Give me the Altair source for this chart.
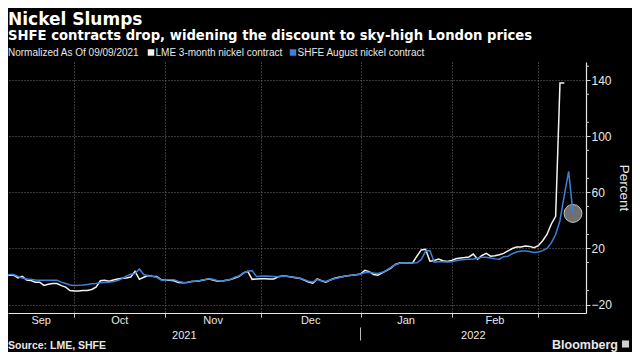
import altair as alt
import numpy as np
import pandas as pd

START = "2021-09-09"
LME_NAME = "LME 3-month nickel contract"
SHFE_NAME = "SHFE August nickel contract"

# One value per trading day starting 2021-09-09 (percent change since then)
lme = [0, 1, 1, -1, 0.2, -2.5, -2.8, -4, -4, -6.3,
       -5.5, -5, -5, -6.5, -7.5, -10, -10.3, -10.3, -9.9, -9.9,
       -9.2, -7.5, -3, -2.6, -3.3, -2.5, -1.7, -1.3, -1, -0.3,
       3.7, -2, -0.5, 0.7, 0.2, 0, -2.2, -2.6, -2.6, -3,
       -4.2, -4.5, -4.2, -3.6, -3.3, -3, -2.3, -1.7, -2.5, -3.3,
       -3.3, -2.6, -2.2, -1, 0.2, 2.5, 3.7, -2, -1.8, -1.6,
       -1.5, -1.7, -1.7, -0.2, 0.3, 0.2, -0.3, -0.8, -1.2, -2.5,
       -4, -4.8, -1.7, -3, -4, -2.5, -1.2, -0.5, 0, 0.5,
       1, 1.3, 1.8, 4.4, 3.5, 1.5, 0.9, 2.6, 4.2, 6,
       8.6, 9.6, 9.7, 9.7, 9.7, 14.5, 19, 19.4, 11, 11.5,
       12.5, 11.3, 10.8, 11.5, 12.7, 13.3, 13.6, 14, 16, 12.4,
       15, 16.5, 14.5, 14.8, 15.5, 16.5, 18.3, 20, 21, 21,
       21.8, 21.5, 20.6, 22, 25.5, 30, 37.5, 43, 138, 138]

shfe = [0, 1.5, 1.4, 0, -1, -1.7, -2, -2.5, -2.6, -2.6,
        -2.6, -2.6, -2.6, -4, -5, -6, -6.3, -6.2, -6, -5.6,
        -5.2, -4.9, -4.5, -4.2, -4, -3.5, -2.8, -1.5, 0.3, 1.7,
        2.1, 5.4, 1.4, 0.5, 0, -0.5, -2.4, -2.6, -2.2, -2.2,
        -3.5, -4, -4.2, -3.6, -3.3, -2.8, -2.2, -1.6, -2, -3,
        -3.3, -2.6, -2, -0.5, 0.5, 2.5, 3.8, 4.2, 0, 0.2,
        0.3, 0.2, 0, -0.2, 0.2, 0.2, -0.3, -0.5, -1.2, -2.2,
        -3.3, -3.8, -2.2, -3, -3.5, -2.5, -1.5, -0.8, 0, 0.5,
        1, 1.3, 1.7, 2.8, 3, 2.5, 2.2, 3, 4.5, 6.5,
        8.4, 9.4, 9.6, 9.6, 9.6, 9.8, 12, 18, 18.5, 10.3,
        10.5, 10.5, 10.3, 10.6, 11.3, 11.8, 12.1, 12.3, 12.5, 13.1,
        13.8, 13.8, 13.2, 12.6, 12.4, 14.2, 14.5, 16.3, 17.5, 18.2,
        18.2, 17.8, 17.2, 17.5, 18.5, 20, 24, 30, 40, 58,
        75, 45]

month_starts = ["2021-10-01", "2021-11-01", "2021-12-01",
                "2022-01-03", "2022-02-01", "2022-03-01"]
month_names = ["Sep", "Oct", "Nov", "Dec", "Jan", "Feb"]
year_names = ["2021", "2022"]
y_ticks = list(range(-20, 141, 20))
y_minor = list(range(-10, 151, 20))

X_DOMAIN = [0.7, 134.0]   # trading days since 2021-09-09
Y_DOMAIN = [-26, 153]

W, H = 578, 251
PAD = {"left": 0, "top": 54, "right": 46, "bottom": 39}
FONT = "Liberation Sans"
TXT = "#e8e8e8"
GRID = "#707070"

# ---- data tables -------------------------------------------------------
def tdays(d):
    return np.busday_count(np.datetime64(START), np.array(d, dtype="datetime64[D]"))

lme_dates = pd.bdate_range(START, periods=len(lme))
shfe_dates = pd.bdate_range(START, periods=len(shfe))
df = pd.concat([
    pd.DataFrame({"td": tdays(lme_dates.values.astype("datetime64[D]")),
                  "value": lme, "series": LME_NAME}),
    pd.DataFrame({"td": tdays(shfe_dates.values.astype("datetime64[D]")),
                  "value": shfe, "series": SHFE_NAME}),
])

bounds = tdays(month_starts).astype(float)
edges = [X_DOMAIN[0]] + list(bounds)
months = pd.DataFrame({"label": month_names,
                       "td": [(edges[i] + edges[i + 1]) / 2 for i in range(len(month_names))]})
jan = bounds[3]
years = pd.DataFrame({"label": year_names,
                      "td": [(X_DOMAIN[0] + jan) / 2, (jan + X_DOMAIN[1]) / 2]})
sep_df = pd.DataFrame({"td": [jan]})
last = df[df.series == SHFE_NAME].tail(1)

xs = alt.Scale(domain=X_DOMAIN, nice=False, zero=False)
ys = alt.Scale(domain=Y_DOMAIN, nice=False, zero=False)
cs = alt.Scale(domain=[LME_NAME, SHFE_NAME], range=["#f2f2f2", "#3d80d8"])

circle = alt.Chart(last).mark_circle(size=320, color="#7d7d7d", opacity=0.9,
                                     stroke="#d8d8d8", strokeWidth=1).encode(
    x=alt.X("td:Q", scale=xs), y=alt.Y("value:Q", scale=ys))

lines = alt.Chart(df).mark_line(strokeWidth=1.5, clip=True).encode(
    x=alt.X("td:Q", scale=xs, axis=alt.Axis(
        values=[float(b) for b in bounds], labels=False, title=None, grid=True,
        gridColor=GRID, gridDash=[1, 2], gridWidth=1, tickSize=4,
        tickColor="#cfcfcf", domainColor="#e6e6e6", domainWidth=1.2)),
    y=alt.Y("value:Q", scale=ys, axis=alt.Axis(
        orient="right", values=y_ticks, grid=True, gridColor=GRID,
        gridDash=[1, 2], gridWidth=1, tickSize=4, tickColor="#cfcfcf",
        domainColor="#e6e6e6", domainWidth=1.2, labelColor=TXT, labelFont=FONT,
        labelFontSize=12, labelPadding=1, title="Percent", titleFont=FONT,
        titleFontSize=13.5, titleFontWeight="normal", titleColor=TXT,
        titleAngle=90, titleX=37, titleY=H / 2, titleAlign="center",
        titleBaseline="middle")),
    color=alt.Color("series:N", scale=cs, legend=None),
    order="td:Q",
)

minor = alt.Chart(pd.DataFrame({"v": y_minor})).mark_rule(color="#cfcfcf").encode(
    y=alt.Y("v:Q", scale=ys), x=alt.value(W), x2=alt.value(W + 3))

month_txt = alt.Chart(months).mark_text(font=FONT, fontSize=11, color=TXT,
                                        baseline="alphabetic").encode(
    x=alt.X("td:Q", scale=xs), y=alt.value(H + 11.3), text="label:N")
year_txt = alt.Chart(years).mark_text(font=FONT, fontSize=11, color=TXT,
                                      baseline="alphabetic").encode(
    x=alt.X("td:Q", scale=xs), y=alt.value(H + 25.5), text="label:N")
year_sep = alt.Chart(sep_df).mark_rule(color="#bdbdbd").encode(
    x=alt.X("td:Q", scale=xs), y=alt.value(H + 14.5), y2=alt.value(H + 27.5))

one = pd.DataFrame({"a": [0]})


def label(text, x, y, size, weight="normal", font=FONT, align="left", color=TXT):
    return alt.Chart(one).mark_text(text=text, font=font, fontWeight=weight,
                                    fontSize=size, color=color, align=align,
                                    baseline="alphabetic").encode(
        x=alt.value(x), y=alt.value(y))


def key(series, x_sym, x_lab, y):
    d = pd.DataFrame({"series": [series]})
    sym = alt.Chart(d).mark_square(size=42, opacity=1).encode(
        x=alt.value(x_sym), y=alt.value(y - 3.5),
        color=alt.Color("series:N", scale=cs, legend=None))
    lab = alt.Chart(d).mark_text(font=FONT, fontSize=10, color=TXT, align="left",
                                 baseline="alphabetic").encode(
        x=alt.value(x_lab), y=alt.value(y), text="series:N")
    return sym, lab


T = PAD["top"]
title = label("Nickel Slumps", 0, 16.5 - T, 17, "bold", "DejaVu Sans", color="#ffffff")
subtitle = label("SHFE contracts drop, widening the discount to sky-high London prices",
                 0, 31.5 - T, 13.2, "bold", "DejaVu Sans", color="#ffffff")
key_title = label("Normalized As Of 09/09/2021", 0, 48 - T, 10)
k1s, k1l = key(LME_NAME, 143, 147.5, 48 - T)
k2s, k2l = key(SHFE_NAME, 285, 289.5, 48 - T)
source = label("Source: LME, SHFE", 0, 340.5 - T, 10.5, "bold")
brand = label("Bloomberg", 610, 340.5 - T, 12.5, "bold", align="right")
icon = alt.Chart(one).mark_square(size=50, color="#cfcfcf", opacity=1).encode(
    x=alt.value(617.5), y=alt.value(336 - T))

chart = alt.layer(circle, lines, minor, month_txt, year_txt, year_sep,
                  title, subtitle, key_title, k1s, k1l, k2s, k2l,
                  source, brand, icon).properties(
    width=W, height=H,
    padding=PAD,
    autosize=alt.AutoSizeParams(type="none"),
).configure(background="#000000").configure_view(stroke=None)

chart.save("out.html", embed_options={"renderer": "svg", "actions": False})
